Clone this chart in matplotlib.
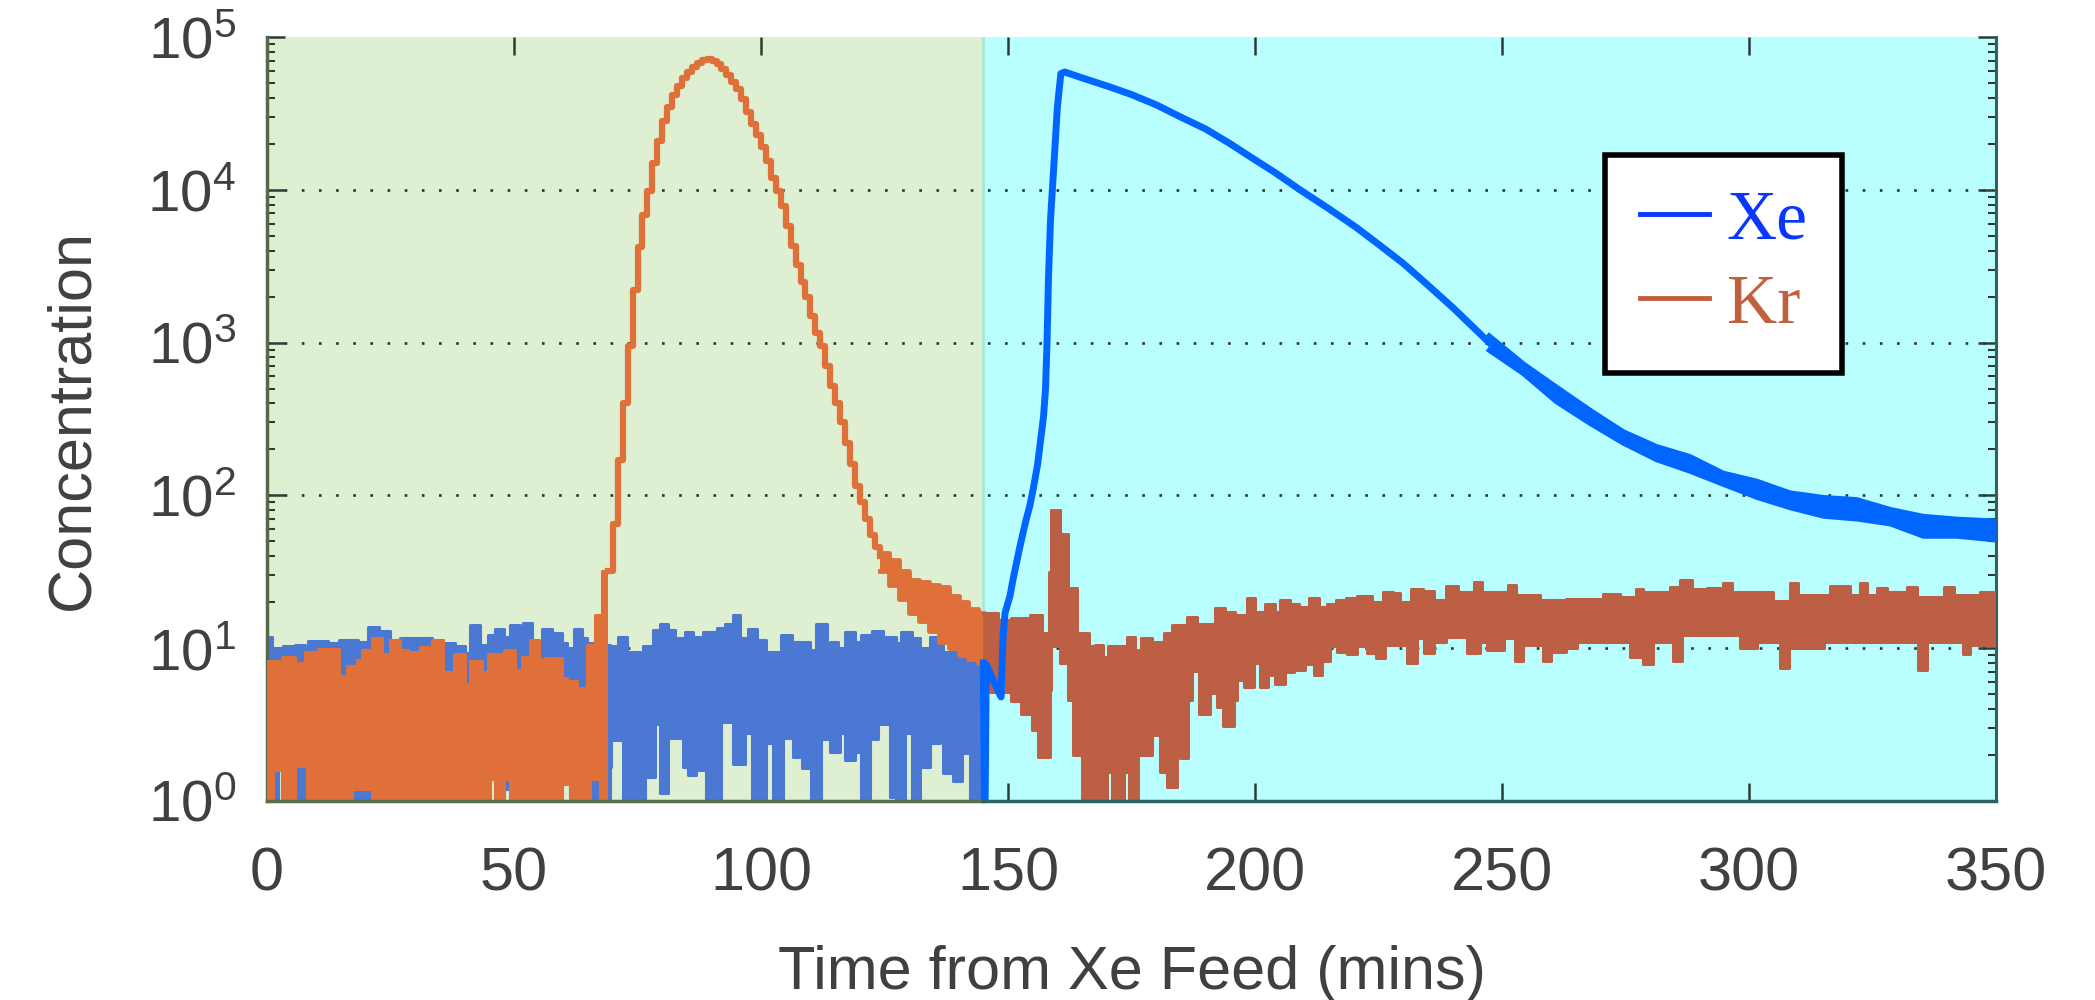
import numpy as np
import matplotlib
matplotlib.use("Agg")
import matplotlib.pyplot as plt
from matplotlib.lines import Line2D
from matplotlib.font_manager import FontProperties
from matplotlib.ticker import LogLocator, NullLocator

plt.rcParams['font.family'] = ['Liberation Sans', 'DejaVu Sans']
plt.rcParams['mathtext.fontset'] = 'custom'
plt.rcParams['mathtext.rm'] = 'Liberation Sans'

# ---------------- data ----------------
# Kr, noisy baseline before breakthrough (step envelopes)
kr_a_hi_t = [0, 3, 5.7, 7.7, 10.4, 14.5, 16.2, 18.2, 19.2, 21.2,
             23.3, 24.9, 27, 28.6, 31, 33.4, 35.7, 37.8, 40.1, 41.1,
             43.5, 44.8, 47.9, 50.2, 51.6, 53.3, 55, 56.3, 59.7, 60.7,
             62.7, 64.7, 66.4, 67.8]
kr_a_hi = [8.2, 8.8, 8.0, 9.5, 9.9, 6.6, 7.6, 8.4, 9.8, 11.6,
           9.1, 11.3, 9.8, 9.5, 10.2, 11.3, 7.0, 9.1, 5.8, 8.2,
           7.0, 9.1, 9.8, 7.2, 8.8, 11.3, 8.5, 8.6, 6.4, 6.1,
           5.5, 10.5, 16.6, 32]
kr_a_lo_t = [0, 1.3, 3.0, 5.7, 8.0, 17.2, 21.2, 22.9, 24.9, 45.2,
             46.2, 47.9, 49.2, 59.7, 61.4, 65.4, 67.4]
kr_a_lo = [0.5, 1.6, 0.5, 1.7, 0.5, 1.2, 0.5, 1.05, 0.5, 1.4,
           0.5, 1.4, 0.5, 1.3, 0.5, 1.4, 0.5]
kr_a_end = 69

# Kr peak
kr_pk_t = [69, 70, 71, 72, 73, 74, 75, 76, 77, 78,
           79, 80, 81, 82, 83, 84, 85, 86, 87, 88,
           89, 90, 91, 92, 93, 94, 95, 96, 97, 98,
           99, 100, 101, 102, 103, 104, 105, 106, 107, 108,
           109, 110, 111, 112, 113, 114, 115, 116, 117, 118,
           119, 120, 121, 122, 123, 124]
kr_pk = [32, 65, 170, 400, 950, 2200, 4200, 6800, 9800, 15000,
         21000, 28000, 35000, 42000, 48000, 54000, 59000, 64000, 68000, 71000,
         72000, 70000, 67000, 62000, 56000, 51000, 46000, 39000, 32500, 27000,
         23000, 19000, 15500, 12000, 9800, 7800, 5800, 4300, 3200, 2500,
         2000, 1500, 1150, 950, 700, 520, 400, 300, 220, 160,
         115, 90, 70, 55, 46, 40]

# Kr shoulder (tail of peak, band)
kr_sh_t = [124, 126, 128, 130, 132, 134, 136, 138, 140, 142, 144]
kr_sh_hi = [42, 38, 32, 28, 27, 26, 25, 22, 20, 18, 17]
kr_sh_lo = [32, 26, 21, 17, 15, 13, 11, 10, 9, 8.5, 8]
kr_sh_end = 145

# Kr after switch (step envelopes)
kr_b_hi_t = [145, 148, 150.7, 154.4, 156.8, 158.2, 158.8, 160.5, 162.2, 163.9,
             166.3, 167.6, 169.3, 170.3, 174, 175.7, 177, 179.1, 181.5, 183.2,
             186.2, 188.2, 192, 194, 196, 198.4, 200, 202, 204, 205,
             207, 209, 211, 212.9, 214.5, 216.3, 218.5, 220.6, 223.7, 226,
             228, 229.4, 231.5, 234, 236.2, 238.6, 241, 244.3, 246, 247.5,
             251.2, 252.9, 257.6, 263, 270.5, 273.9, 277.2, 278.6, 284, 286,
             288.4, 291.4, 294.8, 296.5, 304.9, 308.3, 310, 316.4, 318.4, 320.5,
             322.5, 323.9, 325.9, 327.9, 332, 334, 339.4, 341.4, 346.8]
kr_b_hi = [16.9, 15.3, 15.7, 16.5, 12.5, 31.5, 80, 56, 24.6, 12.5,
           10.3, 10.5, 8.7, 10.3, 11.9, 9.8, 11.6, 11.0, 12.5, 14.2,
           16.1, 14.5, 18.4, 17.3, 16.5, 21.3, 17.3, 19.6, 17.3, 20.6,
           19.6, 18.6, 21.3, 18.6, 19.6, 20.6, 21.3, 22, 20, 23.4,
           23, 20, 24.5, 23.8, 20.6, 25.5, 23.5, 27, 23.4, 23.3,
           26, 22.2, 20.6, 21.1, 22.8, 21.7, 24.3, 23.3, 25.1, 27.8,
           24.5, 24.8, 26.8, 23.3, 20.3, 26.8, 22.2, 25.5, 25.5, 22.2,
           26.8, 22.2, 24.8, 23.3, 25.1, 21.7, 25.1, 22.4, 23.3]
kr_b_lo_t = [145, 146.3, 150.7, 152.7, 154.8, 156.1, 158.5, 158.8, 160.5, 162.2,
             163.2, 164.9, 167.6, 168.3, 170, 171, 173.4, 174.4, 176.4, 179.1,
             180.8, 182.1, 184.2, 184.8, 186.5, 187.2, 188.6, 190.9, 192.3, 193.6,
             195.7, 196.3, 197.7, 199.7, 201, 202.7, 204.1, 206.1, 207.8, 210.2,
             211.9, 213.6, 215.2, 216.6, 218.6, 220.6, 222.7, 224.4, 226.4, 228.8,
             230.8, 232.8, 234.2, 236.2, 238.6, 243, 245.6, 247, 248.9, 250.5,
             252.6, 254.3, 258.3, 260, 263, 265.1, 275.9, 278.6, 280.6, 284.7,
             286.4, 298.2, 301.6, 306.3, 308, 315.1, 334.3, 336, 343.4, 344.8]
kr_b_lo = [7.6, 5.2, 4.5, 3.7, 2.9, 1.93, 5.3, 10.3, 8.0, 4.6,
           2.0, 0.5, 1.55, 0.5, 1.55, 0.5, 1.55, 0.5, 2.0, 2.7,
           1.55, 1.23, 2.4, 1.9, 4.6, 7.1, 3.7, 5.1, 4.1, 3.1,
           4.6, 6.2, 5.6, 8.0, 5.6, 6.7, 5.8, 7.0, 7.2, 7.9,
           6.7, 8.3, 10.3, 9.5, 9.1, 10.3, 9.3, 8.6, 10.5, 10.5,
           8.0, 11.6, 9.3, 11.0, 11.9, 9.3, 11.0, 9.8, 9.8, 11.6,
           8.3, 10.5, 8.3, 9.5, 10.0, 11.0, 8.8, 7.9, 11.0, 8.3,
           12.2, 10.0, 11.0, 7.4, 10.0, 11.0, 7.2, 11.0, 9.1, 10.5]
kr_b_end = 350

# Xe, noisy baseline before switch (step envelopes)
xe_a_hi_t = [0, 1, 3.3, 5.7, 7.7, 8.4, 12.4, 14.5, 18.5, 20.5,
             22.6, 24.9, 27, 33.4, 35.7, 38.1, 40.1, 41.1, 43.1, 44.8,
             46.2, 47.9, 49.2, 51.2, 51.9, 53.6, 55.6, 57.6, 59.7, 60.7,
             62.1, 63.7, 64.7, 66.4, 69.4, 71.1, 72.8, 76.1, 78.2, 79.5,
             81.2, 82.6, 84.6, 86.3, 88.3, 91, 92.7, 94.4, 95.7, 97.4,
             99.1, 101.1, 104.1, 106.2, 109.9, 111.2, 113.3, 113.9, 115.6, 117,
             119, 120.3, 122.4, 124.7, 127.4, 128.4, 130.5, 132.1, 134.2, 136.9]
xe_a_hi = [11.9, 10.0, 10.3, 10.5, 9.3, 11.1, 10.8, 11.3, 11.0, 13.8,
           13.0, 11.3, 11.6, 11.3, 10.8, 10.3, 9.3, 14.2, 10.5, 12.2,
           13.4, 11.9, 14.2, 11.0, 14.6, 11.0, 13.4, 12.5, 10.8, 10.0,
           13.4, 11.6, 10.8, 10.5, 10.3, 11.9, 9.5, 10.3, 13.2, 14.5,
           13.2, 11.6, 12.7, 11.9, 12.7, 13.5, 14.5, 16.5, 11.6, 13.3,
           11.3, 9.5, 12.2, 11.0, 9.8, 14.5, 9.8, 11.0, 10.0, 12.7,
           11.0, 12.2, 13.0, 11.9, 10.8, 12.7, 11.6, 10.0, 11.9, 9.5]
xe_a_lo_t = [0, 2.3, 3.0, 45.2, 46.2, 47.9, 49.2, 59.7, 61.4, 69.4,
             69.7, 72.1, 76.5, 78.5, 79.5, 81.2, 84.2, 85.2, 86.9, 88.9,
             92, 94.4, 96.7, 98.1, 101.1, 102.5, 104.5, 106.5, 108.2, 110.2,
             112.2, 113.9, 116, 117, 119, 120.3, 122, 123.7, 126.1, 127.4,
             129.1, 130.5, 132.1, 134.2, 136.2, 136.9, 138.9, 140.6, 142.3]
xe_a_lo = [0.5, 1.6, 0.5, 1.4, 0.5, 1.2, 0.5, 1.3, 0.5, 1.66,
           2.5, 0.5, 1.43, 3.2, 1.13, 2.6, 1.66, 1.47, 1.6, 0.5,
           3.3, 1.75, 2.8, 0.5, 2.4, 0.5, 2.6, 1.93, 1.64, 0.5,
           2.55, 2.1, 2.8, 1.85, 2.1, 0.5, 2.55, 3.2, 1.07, 0.5,
           2.8, 0.5, 1.66, 2.4, 3.1, 1.52, 1.35, 2.05, 0.5]
xe_a_end = 145

# Xe after switch: breakthrough and decay (line)
xe_b_t = [145.0, 145.3, 145.6, 146.7, 147.7, 148.6, 149.0, 149.4, 150.4, 151.0,
          151.7, 152.4, 153.0, 153.7, 154.4, 155.1, 156.0, 156.6, 157.2, 157.6,
          157.9, 158.2, 158.6, 159.3, 160.0, 160.7, 161.5, 165, 170.7, 175,
          180, 184.9, 190, 195, 199.1, 204, 209.1, 215, 220.4, 225,
          230, 234.6, 240, 247.4]
xe_b = [8, 0.5, 7.8, 6.5, 5.5, 4.8, 12, 17, 22, 28,
        36, 46, 56, 70, 85, 110, 160, 230, 330, 500,
        1000, 2700, 6300, 14800, 35000, 57600, 59000, 54000, 47000, 42000,
        36000, 30000, 25000, 20000, 16400, 13000, 10000, 7500, 5700, 4400,
        3300, 2440, 1700, 1000]

# Xe tail (band)
xe_tail_t = [247.4, 254.3, 261, 267.8, 274.5, 281.3, 288, 294.8, 301.6, 308.3,
             315.1, 321.8, 328.6, 335.3, 342.1, 350]
xe_tail_hi = [1110, 728, 513, 362, 262, 209, 180, 140, 124, 104,
              97, 94, 81, 73, 70, 68]
xe_tail_lo = [890, 627, 410, 296, 220, 171, 144, 118, 97, 83,
              73, 70, 65, 54, 54, 51]

switch_time = 145
x_ticks = [0, 50, 100, 150, 200, 250, 300, 350]
legend_labels = ['Xe', 'Kr']

# ---------------- styling ----------------
C_GREEN = '#dfefd2'
C_CYAN = '#baffff'
C_KR_A = '#e0703a'
C_KR_B = '#bc5f44'
C_XE_A = '#4a78d2'
C_XE_B = '#0066ff'
C_LEG_XE = '#0a36ff'
C_LEG_KR = '#c0603f'
TXT = '#404040'

fig = plt.figure(figsize=(20.95, 10), dpi=100)
ax = fig.add_axes([267/2095, 199/1000, (1996-267)/2095, (801-37)/1000])
ax.set_yscale('log')
ax.set_xlim(0, 350)
ax.set_ylim(1, 1e5)

ax.axvspan(0, switch_time, color=C_GREEN, lw=0, zorder=0)
ax.axvspan(switch_time, 350, color=C_CYAN, lw=0, zorder=0)
ax.axvline(switch_time, color='#a8ead0', lw=2, zorder=0.5)

for yv in [1e1, 1e2, 1e3, 1e4]:
    ax.axhline(yv, color='#2a3530', lw=1.9, ls=(0, (1, 5.5)), zorder=1)


def step_band(t_hi, hi, t_lo, lo, t_end, color, z, lw=2.2):
    t_hi = np.asarray(t_hi, float); hi = np.asarray(hi, float)
    t_lo = np.asarray(t_lo, float); lo = np.asarray(lo, float)
    x = np.union1d(np.union1d(t_hi, t_lo), [t_end])
    h = hi[np.clip(np.searchsorted(t_hi, x, side='right') - 1, 0, None)]
    l = lo[np.clip(np.searchsorted(t_lo, x, side='right') - 1, 0, None)]
    ax.fill_between(x, l, h, step='post', color=color, lw=0, zorder=z)
    ax.step(x, h, where='post', color=color, lw=lw, zorder=z)
    ax.step(x, l, where='post', color=color, lw=lw, zorder=z)


# Xe before switch
step_band(xe_a_hi_t, xe_a_hi, xe_a_lo_t, xe_a_lo, xe_a_end, C_XE_A, 2)
# Kr before switch
step_band(kr_a_hi_t, kr_a_hi, kr_a_lo_t, kr_a_lo, kr_a_end, C_KR_A, 3)
ax.plot(kr_pk_t, kr_pk, drawstyle='steps-post', color=C_KR_A, lw=4.5, zorder=3)
step_band(kr_sh_t, kr_sh_hi, kr_sh_t, kr_sh_lo, kr_sh_end, C_KR_A, 3, lw=3.5)
# Kr after switch
step_band(kr_b_hi_t, kr_b_hi, kr_b_lo_t, kr_b_lo, kr_b_end, C_KR_B, 4)
# Xe after switch
ax.plot(xe_b_t, xe_b, color=C_XE_B, lw=5, zorder=5)
ax.fill_between(xe_tail_t, xe_tail_lo, xe_tail_hi, color=C_XE_B, lw=0, zorder=5)
ax.plot(xe_tail_t, xe_tail_hi, color=C_XE_B, lw=3.5, zorder=5)
ax.plot(xe_tail_t, xe_tail_lo, color=C_XE_B, lw=3.5, zorder=5)

# axes decorations
ax.set_xticks(x_ticks)
ax.xaxis.set_minor_locator(NullLocator())
ax.yaxis.set_major_locator(LogLocator(base=10, numticks=10))
ax.yaxis.set_minor_locator(LogLocator(base=10, subs=np.arange(2, 10), numticks=20))

ax.tick_params(which='both', direction='in', top=True, right=True, colors='#2c3c34')
ax.tick_params(which='major', length=13, width=1.8)
ax.tick_params(which='minor', length=6, width=1.5)
ax.tick_params(axis='x', labelsize=44, pad=33, labelcolor=TXT)
ax.tick_params(axis='y', labelsize=42, pad=22, labelcolor=TXT)

for s in ['top', 'bottom']:
    ax.spines[s].set_visible(False)
ax.spines['left'].set_color('#55694a')
ax.spines['left'].set_linewidth(2.5)
ax.spines['right'].set_color('#2d6262')
ax.spines['right'].set_linewidth(2.2)
xt = ax.get_xaxis_transform()
ax.plot([0, switch_time], [0, 0], transform=xt, color='#5a6e4e', lw=2.5, clip_on=False, zorder=6)
ax.plot([switch_time, 350], [0, 0], transform=xt, color='#2d6262', lw=2.5, clip_on=False, zorder=6)

ax.set_xlabel('Time from Xe Feed (mins)', fontsize=44, color=TXT, labelpad=30)
ax.set_ylabel('Concentration', fontsize=44, color=TXT, labelpad=33)

handles = [Line2D([], [], color=C_LEG_XE, lw=3.5), Line2D([], [], color=C_LEG_KR, lw=3.5)]
leg = ax.legend(handles, legend_labels, loc='upper left',
                bbox_to_anchor=(1605/2095, 1 - 155/1000), bbox_transform=fig.transFigure,
                prop=FontProperties(family='Liberation Serif', size=50),
                labelcolor=[C_LEG_XE, C_LEG_KR], frameon=True, fancybox=False,
                edgecolor='black', framealpha=1, borderpad=0.5, handlelength=1.0,
                handletextpad=0.25, labelspacing=0.3, borderaxespad=0)
leg.get_frame().set_linewidth(4)
leg.set_zorder(10)

fig.savefig('out.png', dpi=100, facecolor='white')
